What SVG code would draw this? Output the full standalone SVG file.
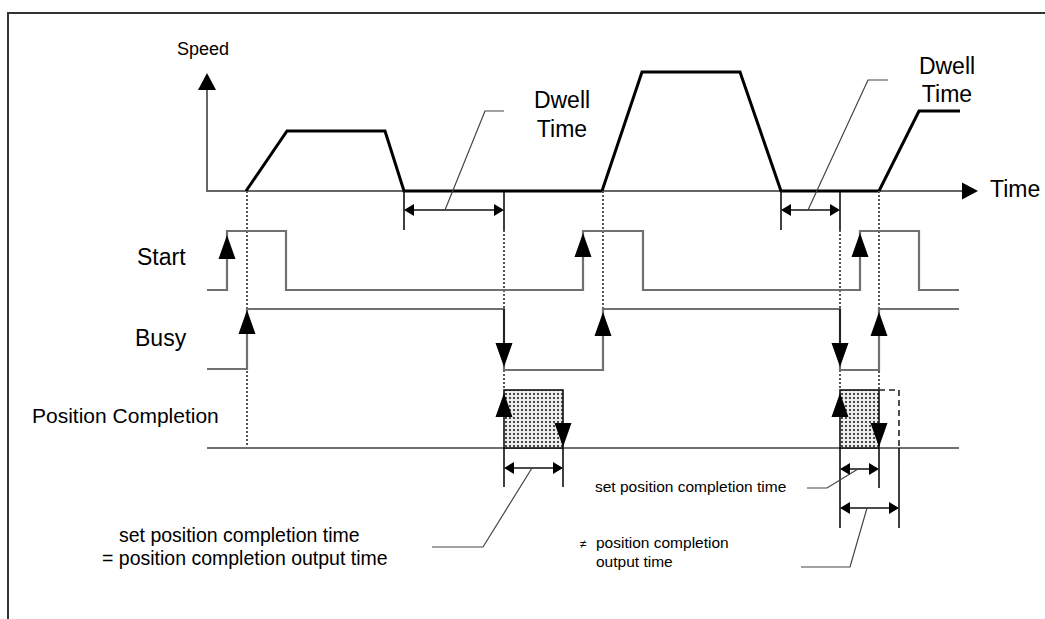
<svg xmlns="http://www.w3.org/2000/svg" xmlns:xlink="http://www.w3.org/1999/xlink" width="1045" height="619" viewBox="0 0 1045 619">
<defs>
<style>
.frame{fill:none;stroke:#333;stroke-width:2}
.sig{fill:none;stroke:#707070;stroke-width:2.2}
.prof{fill:none;stroke:#000;stroke-width:3;stroke-linejoin:miter}
.axis{fill:none;stroke:#666;stroke-width:2}
.dot{fill:none;stroke:#555;stroke-width:2;stroke-dasharray:2 2}
.dash{fill:none;stroke:#222;stroke-width:1.6;stroke-dasharray:6 4}
.dim{fill:none;stroke:#111;stroke-width:1.6}
.lead{fill:none;stroke:#444;stroke-width:1.2}
.pulse{fill:url(#dots);stroke:#111;stroke-width:1.6}
.ah{fill:#000}
text{font-family:"Liberation Sans",Arial,sans-serif;fill:#000}
</style>
<pattern id="dots" width="4" height="4" patternUnits="userSpaceOnUse">
<rect width="4" height="4" fill="#ececec"/>
<circle cx="2" cy="2" r="1" fill="#111"/>
</pattern>
<polygon id="ua" class="ah" points="0,0 -8.5,24 8.5,24"/>
<polygon id="da" class="ah" points="0,0 -8.5,-24 8.5,-24"/>
<polygon id="la" class="ah" points="0,0 10,-6 10,6"/>
<polygon id="ra" class="ah" points="0,0 -10,-6 -10,6"/>
</defs>
<rect width="1045" height="619" fill="#fff"/>
<path class="frame" d="M8,619 V13 H1045"/>

<g id="connectors">
<!-- axes -->
<path class="axis" d="M207,88 V191 H964"/>
<polygon class="ah" points="207,73 198,90 216,90"/>
<polygon class="ah" points="978,191 962,182.5 962,199.5"/>
<!-- speed profile -->
<path class="prof" d="M246,191 L287,131 L385,131 L404,191 L602,191 L642,72 L740,72 L781,191 L879,191 L919,111 L960,111"/>
<!-- dotted guides -->
<path class="dot" d="M247,191 V448 M504,230 V309 M504,370 V390 M603,191 V309 M840,230 V309 M840,370 V390 M879,191 V390"/>
<!-- dwell dimension 1 -->
<path class="dim" d="M404,191 V230 M504,191 V230 M406,210 H502"/>
<use xlink:href="#la" x="404" y="210"/>
<use xlink:href="#ra" x="504" y="210"/>
<path class="lead" d="M445,210 L485,111 H504"/>
<!-- dwell dimension 2 -->
<path class="dim" d="M781,191 V230 M840,191 V230 M783,210 H838"/>
<use xlink:href="#la" x="781" y="210"/>
<use xlink:href="#ra" x="840" y="210"/>
<path class="lead" d="M808,210 L868,80 H888"/>
<!-- Start signal -->
<path class="sig" d="M207,290 H227 V231 H286 V290 H583 V231 H643 V290 H860 V231 H919 V290 H959"/>
<use xlink:href="#ua" x="227" y="235"/>
<use xlink:href="#ua" x="583" y="233"/>
<use xlink:href="#ua" x="860" y="233"/>
<!-- Busy signal -->
<path class="sig" d="M207,369 H247 V309 H504 V370 H603 V309 H840 V370 H879 V309 H959"/>
<path class="dim" d="M504,309 V350 M840,309 V350"/>
<use xlink:href="#ua" x="247" y="310"/>
<use xlink:href="#da" x="504" y="367"/>
<use xlink:href="#ua" x="603" y="312"/>
<use xlink:href="#da" x="840" y="367"/>
<use xlink:href="#ua" x="879" y="312"/>
<!-- Position completion -->
<path class="sig" d="M207,448 H959"/>
<rect class="pulse" x="504" y="390" width="59" height="58"/>
<rect class="pulse" x="840" y="390" width="39" height="58"/>
<path class="dash" d="M879,390 H899 V448"/>
<use xlink:href="#ua" x="504" y="393"/>
<use xlink:href="#da" x="563" y="447"/>
<use xlink:href="#ua" x="840" y="393"/>
<use xlink:href="#da" x="879" y="447"/>
<!-- bottom dimension 1 -->
<path class="dim" d="M504,448 V487 M563,448 V487 M506,468 H561"/>
<use xlink:href="#la" x="504" y="468"/>
<use xlink:href="#ra" x="563" y="468"/>
<path class="lead" d="M532,468 L483,547 H432"/>
<!-- bottom dimension 2 -->
<path class="dim" d="M840,448 V528 M879,448 V488 M899,448 V528 M842,469 H877 M842,508 H897"/>
<use xlink:href="#la" x="840" y="469"/>
<use xlink:href="#ra" x="879" y="469"/>
<use xlink:href="#la" x="840" y="508"/>
<use xlink:href="#ra" x="899" y="508"/>
<path class="lead" d="M858,469 L827,488 H807"/>
<path class="lead" d="M867,508 L850,567 H801"/>
</g>

<g id="label-speed"><text x="177" y="55" font-size="18">Speed</text></g>
<g id="label-time"><text x="990" y="197" font-size="23">Time</text></g>
<g id="label-dwell1"><text x="562" y="108" font-size="23" text-anchor="middle">Dwell</text><text x="562" y="137" font-size="23" text-anchor="middle">Time</text></g>
<g id="label-dwell2"><text x="947" y="74" font-size="23" text-anchor="middle">Dwell</text><text x="947" y="102" font-size="23" text-anchor="middle">Time</text></g>
<g id="label-start"><text x="137" y="265" font-size="23">Start</text></g>
<g id="label-busy"><text x="135" y="346" font-size="23">Busy</text></g>
<g id="label-poscomp"><text x="32" y="423" font-size="21">Position Completion</text></g>
<g id="note-equal"><text x="119" y="542" font-size="19.5">set position completion time</text><text x="102" y="564.5" font-size="19.5">= position completion output time</text></g>
<g id="note-set"><text x="595" y="492" font-size="15.5">set position completion time</text></g>
<g id="note-notequal"><text x="580" y="548" font-size="12">≠</text><text x="596" y="548" font-size="15.5">position completion</text><text x="596" y="567" font-size="15.5">output time</text></g>
</svg>
